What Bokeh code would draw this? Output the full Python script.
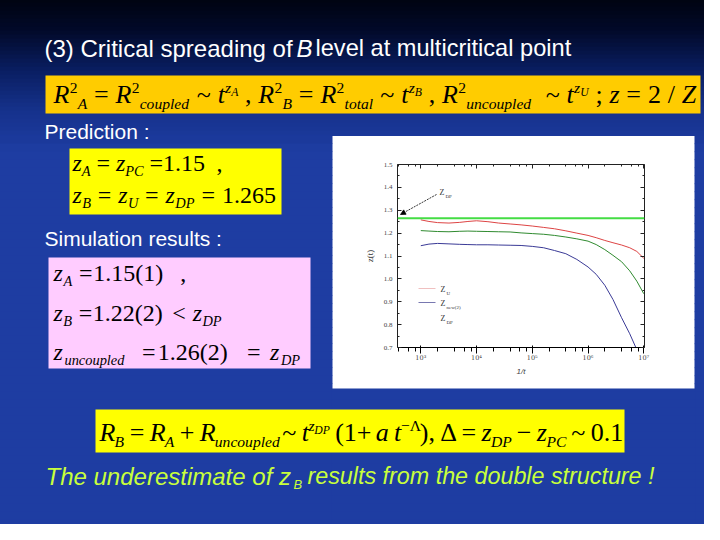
from bokeh.plotting import figure
from bokeh.models import (Range1d, LinearScale, LogAxis, LinearAxis, Arrow, NormalHead, Span,
                          FixedTicker, LogTicker, PrintfTickFormatter, ColumnDataSource)
from bokeh.core.properties import value
from bokeh.embed import file_html
from bokeh.resources import INLINE

# ---------------- data ----------------
t_vals = [1000, 1400, 2000, 3200, 5000, 7000, 10000, 16000, 25000, 40000, 63000, 100000,
          160000, 250000, 400000, 630000, 1000000, 1400000, 2000000, 2800000, 4000000,
          5600000, 7500000, 10000000]
z_red = [1.258, 1.251, 1.246, 1.244, 1.247, 1.251, 1.254, 1.250, 1.244, 1.240, 1.236, 1.231,
         1.225, 1.219, 1.210, 1.200, 1.190, 1.180, 1.168, 1.158, 1.148, 1.136, 1.120, 1.090]
z_green = [1.211, 1.209, 1.207, 1.206, 1.208, 1.209, 1.208, 1.207, 1.206, 1.205, 1.201, 1.198,
           1.195, 1.190, 1.183, 1.175, 1.165, 1.150, 1.128, 1.103, 1.075, 1.035, 0.990, 0.935]
t_blue = [1000, 1400, 2000, 3200, 5000, 7000, 10000, 16000, 25000, 40000, 63000, 100000,
          160000, 250000, 400000, 630000, 1000000, 1400000, 2000000, 2800000, 4000000,
          5600000, 7200000]
z_blue = [1.145, 1.152, 1.155, 1.153, 1.151, 1.150, 1.149, 1.149, 1.148, 1.147, 1.146, 1.142,
          1.136, 1.124, 1.110, 1.085, 1.052, 1.020, 0.972, 0.910, 0.830, 0.760, 0.700]
z_dp = 1.265
y_ticks = [0.7, 0.8, 0.9, 1.0, 1.1, 1.2, 1.3, 1.4, 1.5]
x_tick_labels = {1000: "10\u00b3", 10000: "10\u2074", 100000: "10\u2075",
                 1000000: "10\u2076", 10000000: "10\u2077"}
x_limits = [382, 1.03e7]
y_limits = [0.7, 1.5]
legend_names = [("Z", "U"), ("Z", "new(2)"), ("Z", "DP")]

# ---------------- figure: canvas pixels == slide pixels ----------------
W, H = 704, 524
FX0, FX1, FY0, FY1 = 397, 644, 164, 347   # chart frame in slide pixels
p = figure(width=W, height=H, output_backend="svg", toolbar_location=None,
           x_axis_type="log", x_range=Range1d(*x_limits), y_range=Range1d(*y_limits),
           min_border_left=FX0, min_border_right=W - FX1,
           min_border_top=FY0, min_border_bottom=H - FY1)
p.extra_x_ranges = {"s": Range1d(FX0, FX1)}
p.extra_y_ranges = {"s": Range1d(FY1, FY0)}
p.extra_x_scales = {"s": LinearScale()}
p.extra_y_scales = {"s": LinearScale()}
p.border_fill_color = "white"
p.background_fill_color = "white"
p.outline_line_color = None
p.xgrid.visible = False
p.ygrid.visible = False
S_KW = dict(x_range_name="s", y_range_name="s", level="overlay")

# ---------------- slide decoration (never overlaps the chart box) ----------------
boxes = dict(l=[], r=[], t=[], b=[], c=[])
def box(l, r, t, b, color):
    for k, v in zip("lrtbc", (l, r, t, b, color)):
        boxes[k].append(v)

stops = [(0, (0, 4, 18)), (30, (2, 10, 42)), (70, (10, 30, 98)), (110, (22, 50, 140)),
         (150, (30, 61, 162))]
def col_at(y):
    for (y0, c0), (y1, c1) in zip(stops[:-1], stops[1:]):
        if y0 <= y <= y1:
            f = (y - y0) / (y1 - y0)
            return "#%02x%02x%02x" % tuple(int(a + (b - a) * f) for a, b in zip(c0, c1))
    return "#%02x%02x%02x" % stops[-1][1]

for yy in range(-2, 135, 4):
    box(-5, W + 5, yy, min(yy + 4.6, 135.5), col_at(yy + 2))
for yy in range(135, H + 5, 8):
    c = col_at(min(yy + 4, 150))
    box(-5, 332, yy, yy + 8.6, c)
    box(694, W + 5, yy, yy + 8.6, c)
    if yy + 8 > 388:
        box(331, 695, max(yy, 388), yy + 8.6, c)
box(45, 700, 75, 113, "#ffcc00")
box(69, 281, 148, 214, "#ffff00")
box(48, 310, 257, 368, "#ffccff")
box(95, 624, 409, 452, "#ffff00")

p.quad(left=boxes["l"], right=boxes["r"], top=boxes["t"], bottom=boxes["b"],
       fill_color=boxes["c"], line_color=None, **S_KW)

texts = {"Liberation Sans": dict(x=[], y=[], text=[], size=[], style=[], color=[]),
         "Liberation Serif": dict(x=[], y=[], text=[], size=[], style=[], color=[])}
def slabel(text, x, base, size, italic=False, color="white", font="Liberation Sans"):
    d = texts[font]
    d["x"].append(x); d["y"].append(base - 0.35 * size); d["text"].append(text)
    d["size"].append(f"{size:.1f}px"); d["style"].append("italic" if italic else "normal")
    d["color"].append(color)

slabel("(3) Critical spreading of", 44, 56, 24)
slabel("B", 296, 56, 24, italic=True)
slabel("level at multicritical point", 315, 56, 23.6)
slabel("Prediction :", 44, 138, 21)
slabel("Simulation results :", 44, 245, 21)
slabel("The underestimate of z", 45, 484, 24, italic=True, color="#c8ff3c")
slabel("B", 293, 489, 13, italic=True, color="#c8ff3c")
slabel("results from the double structure !", 307, 484, 23.3, italic=True, color="#c8ff3c")

# ---------------- formula layout (Times metrics) ----------------
TR = {" ": .25, ".": .25, ",": .25, ";": .278, "/": .278, "(": .333, ")": .333, "=": .564,
      "~": .541, "+": .564, "<": .564, "\u2212": .564, "\u0394": .612, "\u039b": .722}
TI = {" ": .25, "A": .611, "B": .611, "C": .667, "D": .722, "P": .611, "R": .611, "U": .722,
      "Z": .556, "a": .5, "c": .444, "d": .5, "e": .444, "l": .278, "n": .5, "o": .5, "p": .5,
      "t": .278, "u": .5, "z": .389}
def tw(text, it):
    tab = TI if it else TR
    return sum(tab.get(ch, .5) for ch in text)

KS = {"n": 1.0, "sub": 0.6, "sup": 0.6, "ss": 0.45}
KD = {"n": 0.0, "sub": 0.2, "sup": -0.4, "ss": -0.26}

def formula(segs, x0, x1, base, S):
    nat = sum(tw(t, it) * KS[k] * S for t, k, it in segs)
    sc = (x1 - x0) / nat
    x = x0
    for t, k, it in segs:
        size = KS[k] * S
        body = t.strip()
        if body:
            lead = tw(t[:len(t) - len(t.lstrip())], it) * size
            slabel(body, x + lead * sc, base + KD[k] * S, size, italic=bool(it),
                   color="black", font="Liberation Serif")
        x += tw(t, it) * size * sc

N, SB, SP, SS = "n", "sub", "sup", "ss"
formula([("R", N, 1), ("2", SP, 0), ("A", SB, 1), (" = ", N, 0), ("R", N, 1), ("2", SP, 0),
         ("coupled", SB, 1), (" ~ ", N, 0), ("t", N, 1), ("z", SP, 1), ("A", SS, 1), (" , ", N, 0),
         ("R", N, 1), ("2", SP, 0), ("B", SB, 1), (" = ", N, 0), ("R", N, 1), ("2", SP, 0),
         ("total", SB, 1), (" ~ ", N, 0), ("t", N, 1), ("z", SP, 1), ("B", SS, 1), (" , ", N, 0),
         ("R", N, 1), ("2", SP, 0), ("uncoupled", SB, 1), ("  ~ ", N, 0), ("t", N, 1), ("z", SP, 1),
         ("U", SS, 1), (" ; ", N, 0), ("z", N, 1), (" = ", N, 0), ("2", N, 0), (" / ", N, 0),
         ("Z", N, 1)], 53, 696, 103, 26)

formula([("z", N, 1), ("A", SB, 1), (" = ", N, 0), ("z", N, 1), ("PC", SB, 1), (" =", N, 0),
         ("1.15", N, 0), ("  ,", N, 0)], 72, 222, 171, 24)
formula([("z", N, 1), ("B", SB, 1), (" = ", N, 0), ("z", N, 1), ("U", SB, 1), (" = ", N, 0),
         ("z", N, 1), ("DP", SB, 1), (" = ", N, 0), ("1.265", N, 0)], 72, 278, 203, 24)

formula([("z", N, 1), ("A", SB, 1), (" =", N, 0), ("1.15(1)", N, 0), ("  ,", N, 0)],
        53, 186, 281, 24)
formula([("z", N, 1), ("B", SB, 1), (" =", N, 0), ("1.22(2)", N, 0), (" < ", N, 0), ("z", N, 1),
         ("DP", SB, 1)], 53, 222, 321, 24)
formula([("z", N, 1), ("uncoupled", SB, 1), (" =", N, 0), ("1.26(2)", N, 0), (" = ", N, 0),
         ("z", N, 1), ("DP", SB, 1)], 53, 303, 360, 24)

formula([("R", N, 1), ("B", SB, 1), (" = ", N, 0), ("R", N, 1), ("A", SB, 1), (" + ", N, 0),
         ("R", N, 1), ("uncoupled", SB, 1), (" ~ ", N, 0), ("t", N, 1), ("z", SP, 1),
         ("DP", SS, 1), (" (1+ ", N, 0), ("a", N, 1), (" t", N, 1), ("\u2212\u039b", SP, 0),
         ("), ", N, 0), ("\u0394", N, 0), (" = ", N, 0), ("z", N, 1), ("DP", SB, 1),
         (" \u2212 ", N, 0), ("z", N, 1), ("PC", SB, 1), (" ~ ", N, 0), ("0.1", N, 0)],
        99, 621, 441, 26)

# chart-internal texts
slabel("Z", 439, 195, 8, color="#333333", font="Liberation Serif")
slabel("DP", 445, 198, 5, color="#333333", font="Liberation Serif")
leg_rows = [292, 306, 321]
for (main, sub), yb in zip(legend_names, leg_rows):
    slabel(main, 440, yb, 8, color="#333333", font="Liberation Serif")
    slabel(sub, 446, yb + 3, 5, color="#333333", font="Liberation Serif")

for font, d in texts.items():
    p.text(x="x", y="y", text="text", source=ColumnDataSource(d), text_font=value(font),
           text_font_size="size", text_font_style="style", text_color="color",
           text_baseline="middle", text_align="left", **S_KW)

# ---------------- chart data ----------------
p.line(t_vals, z_red, line_color="#dd4444", line_width=1)
p.line(t_vals, z_green, line_color="#2f8a2f", line_width=1)
p.line(t_blue, z_blue, line_color="#3a3a96", line_width=1)
p.add_layout(Span(location=z_dp, dimension="width", line_color="#44dd44", line_width=2))

# ---------------- chart annotations ----------------
p.add_layout(Arrow(end=NormalHead(size=5, fill_color="black", line_color="black", line_width=0.8),
                   x_start=436, y_start=194, x_end=400, y_end=214, line_color="black",
                   line_width=0.8, line_dash="2 1", x_range_name="s", y_range_name="s"))
for lc, yb in zip(["#f0c0c0", "#7878b0"], leg_rows):
    p.add_layout(Arrow(start=None, end=None, x_start=418, y_start=yb - 4, x_end=435,
                       y_end=yb - 4, line_color=lc, line_width=1,
                       x_range_name="s", y_range_name="s"))

# ---------------- axes ----------------
y_minor = [a + (b - a) / 2 for a, b in zip(y_ticks[:-1], y_ticks[1:])]
p.yaxis.ticker = FixedTicker(ticks=y_ticks, minor_ticks=y_minor)
p.yaxis.formatter = PrintfTickFormatter(format="%.1f")
p.xaxis.ticker = LogTicker()
p.xaxis.major_label_overrides = x_tick_labels
p.xaxis.axis_label = "1/t"
p.yaxis.axis_label = "z(t)"
top = LogAxis(ticker=LogTicker())
right = LinearAxis(ticker=FixedTicker(ticks=y_ticks, minor_ticks=y_minor))
p.add_layout(top, "above")
p.add_layout(right, "right")
for ax in [p.xaxis[0], p.yaxis[0], top, right]:
    ax.major_tick_in = 4
    ax.major_tick_out = 0
    ax.minor_tick_in = 2
    ax.minor_tick_out = 0
    ax.axis_line_color = "#222222"
    ax.major_tick_line_color = "#222222"
    ax.minor_tick_line_color = "#222222"
    ax.major_label_text_font = "Liberation Serif"
    ax.major_label_text_font_size = "7px"
    ax.major_label_text_color = "#444444"
    ax.major_label_standoff = 5
    ax.axis_label_text_font = "Liberation Serif"
    ax.axis_label_text_font_size = "9px"
    ax.axis_label_text_font_style = "normal"
    ax.axis_label_text_color = "#333333"
    ax.axis_label_standoff = 6
p.xaxis.major_label_text_font = "DejaVu Serif"
p.xaxis.major_label_text_font_size = "6.5px"
p.xaxis.major_label_standoff = 0
p.xaxis.axis_label_standoff = 2
p.xaxis.axis_label_text_font_size = "8px"
for ax in (top, right):
    ax.major_label_text_alpha = 0

open("out.html", "w").write(file_html(p, INLINE))
